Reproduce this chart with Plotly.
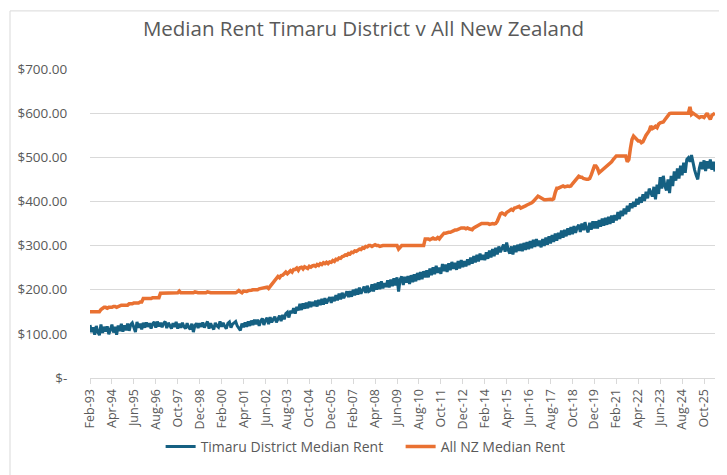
import pandas as pd
import plotly.graph_objects as go

# monthly, Feb-1993 .. May-2026
months = pd.date_range('1993-02-01', periods=400, freq='MS').strftime('%b-%y').tolist()

timaru_rent = [
    120, 104, 115, 98, 118, 104, 97, 121, 102, 116, 105,               # 1993
    117, 99, 113, 121, 103, 116, 98, 119, 106, 123, 105, 119,          # 1994
    108, 123, 107, 121, 125, 112, 104, 127, 114, 123, 110, 125,        # 1995
    114, 126, 116, 124, 112, 123, 127, 114, 128, 117, 125, 115,        # 1996
    124, 128, 113, 125, 118, 112, 124, 116, 127, 112, 123, 114,        # 1997
    125, 116, 112, 124, 115, 110, 123, 104, 119, 124, 113, 124,        # 1998
    116, 126, 114, 123, 128, 112, 124, 116, 110, 125, 118, 115,        # 1999
    128, 116, 125, 117, 112, 124, 127, 114, 122, 125, 128, 118,        # 2000
    112, 108, 123, 115, 126, 116, 128, 118, 130, 120, 132, 122,        # 2001
    132, 118, 129, 135, 120, 131, 136, 122, 138, 126, 133, 139,        # 2002
    126, 136, 141, 129, 143, 133, 146, 149, 137, 152, 147, 158,        # 2003
    146, 161, 153, 168, 154, 169, 157, 171, 158, 173, 161, 172,        # 2004
    163, 175, 162, 177, 165, 179, 166, 181, 169, 177, 183, 170,        # 2005
    184, 174, 188, 176, 191, 178, 193, 181, 189, 196, 183, 197,        # 2006
    184, 200, 187, 202, 189, 205, 191, 198, 207, 193, 209, 196,        # 2007
    198, 212, 196, 214, 200, 217, 201, 219, 203, 215, 206, 221,        # 2008
    205, 223, 208, 226, 210, 228, 196, 223, 230, 211, 229, 216,        # 2009
    231, 213, 233, 217, 235, 219, 238, 222, 240, 224, 242, 228,        # 2010
    244, 228, 248, 233, 251, 235, 254, 238, 250, 236, 258, 242,        # 2011
    257, 240, 260, 244, 263, 247, 261, 245, 265, 248, 267, 251,        # 2012
    265, 253, 269, 256, 273, 259, 276, 262, 279, 264, 282, 268,        # 2013
    279, 267, 285, 270, 289, 273, 292, 276, 295, 280, 298, 285,        # 2014
    293, 302, 286, 307, 290, 282, 298, 280, 300, 285, 302, 288,        # 2015
    304, 287, 306, 290, 308, 292, 310, 294, 313, 297, 315, 299,        # 2016
    311, 296, 315, 299, 318, 302, 321, 305, 324, 308, 327, 311,        # 2017
    329, 315, 334, 318, 336, 321, 339, 324, 342, 326, 344, 329,        # 2018
    341, 347, 331, 350, 335, 353, 338, 330, 352, 336, 355, 339,        # 2019
    355, 339, 358, 343, 361, 345, 363, 347, 365, 349, 368, 352,        # 2020
    369, 357, 376, 360, 379, 367, 384, 371, 390, 377, 396, 385,        # 2021
    399, 388, 406, 393, 410, 397, 416, 401, 422, 407, 429, 417,        # 2022
    411, 433, 405, 438, 417, 455, 429, 458, 435, 425, 450, 419,        # 2023
    458, 435, 468, 447, 475, 452, 481, 459, 488, 465, 495, 499,        # 2024
    490, 505, 483, 471, 459, 450, 475, 489, 473, 493, 469, 491,        # 2025
    475, 495, 472, 490, 468,                                           # 2026
]

nz_rent = [
    150, 150, 150, 150, 150, 150, 150, 155, 158, 160, 160,             # 1993
    158, 160, 160, 160, 162, 162, 160, 162, 163, 165, 165, 165,        # 1994
    165, 165, 168, 168, 168, 170, 170, 170, 170, 172, 172, 180,        # 1995
    180, 180, 180, 180, 180, 182, 182, 182, 182, 182, 192, 192,        # 1996
    192, 192, 193, 193, 193, 193, 193, 193, 193, 193, 197, 193,        # 1997
    193, 193, 193, 193, 192, 192, 193, 193, 195, 193, 193, 193,        # 1998
    193, 193, 193, 193, 195, 193, 193, 193, 193, 193, 193, 193,        # 1999
    193, 193, 193, 193, 193, 193, 193, 193, 193, 193, 193, 195,        # 2000
    198, 195, 193, 197, 196, 196, 198, 198, 199, 200, 200, 200,        # 2001
    200, 202, 203, 203, 205, 205, 206, 203, 208, 212, 218, 222,        # 2002
    226, 230, 227, 232, 233, 238, 240, 236, 241, 243, 240, 246,        # 2003
    246, 249, 244, 250, 251, 247, 252, 250, 248, 253, 251, 254,        # 2004
    255, 253, 257, 255, 259, 257, 261, 259, 262, 259, 263, 262,        # 2005
    266, 264, 269, 268, 272, 271, 275, 276, 279, 278, 282, 281,        # 2006
    285, 284, 288, 287, 290, 292, 291, 295, 294, 298, 297, 300,        # 2007
    300, 298, 300, 302, 300, 300, 298, 300, 300, 300, 300, 300,        # 2008
    300, 300, 300, 300, 300, 300, 292, 296, 300, 300, 300, 300,        # 2009
    300, 300, 300, 300, 300, 300, 300, 300, 300, 300, 300, 315,        # 2010
    315, 315, 313, 315, 317, 315, 315, 318, 315, 320, 325, 328,        # 2011
    328, 330, 330, 330, 332, 333, 335, 335, 337, 338, 340, 340,        # 2012
    340, 338, 340, 338, 336, 336, 340, 342, 345, 348, 350, 350,        # 2013
    350, 350, 349, 350, 348, 350, 350, 349, 350, 355, 365, 372,        # 2014
    374, 372, 370, 375, 378, 380, 382, 380, 385, 386, 388, 389,        # 2015
    385, 386, 388, 390, 392, 393, 395, 397, 400, 405, 410, 412,        # 2016
    410, 408, 404, 404, 404, 405, 404, 405, 404, 406, 420, 430,        # 2017
    430, 431, 432, 435, 433, 435, 435, 434, 435, 440, 445, 450,        # 2018
    455, 457, 455, 455, 452, 450, 450, 450, 452, 460, 470, 480,        # 2019
    480, 475, 465, 468, 470, 475, 478, 480, 482, 485, 490, 495,        # 2020
    500, 503, 503, 503, 503, 503, 503, 503, 490, 495, 520, 540,        # 2021
    548, 545, 540, 537, 537, 533, 535, 545, 550, 555, 560, 571,        # 2022
    565, 567, 570, 567, 575, 578, 580, 580, 585, 590, 595, 599,        # 2023
    600, 600, 600, 600, 600, 600, 600, 600, 600, 600, 600, 600,        # 2024
    614, 597, 600, 598, 595, 592, 590, 592, 592, 590, 595, 600,        # 2025
    592, 586, 595, 598, 600,                                           # 2026
]

y_ticks = [0, 100, 200, 300, 400, 500, 600, 700]
y_labels = ['$-', '$100.00', '$200.00', '$300.00', '$400.00', '$500.00', '$600.00', '$700.00']
x_labels = months[::14]

grey = '#595959'
font_name = 'Open Sans'

fig = go.Figure()
fig.add_trace(go.Scatter(x=months, y=timaru_rent, mode='lines', name='Timaru District Median Rent',
                         line=dict(color='#156082', width=3)))
fig.add_trace(go.Scatter(x=months, y=nz_rent, mode='lines', name='All NZ Median Rent',
                         line=dict(color='#E97132', width=3.5)))

fig.update_layout(
    width=727, height=475,
    margin=dict(l=82, r=20, t=61, b=105),
    paper_bgcolor='white', plot_bgcolor='white',
    font=dict(family=font_name, color=grey, size=13),
    title=dict(text='Median Rent Timaru District v All New Zealand', x=0.489, xanchor='center',
               y=0.957, yanchor='middle', font=dict(size=20.5, color=grey)),
    showlegend=True,
    legend=dict(orientation='h', x=0.113, xanchor='left', y=-0.223, yanchor='middle',
                entrywidth=195, entrywidthmode='pixels',
                font=dict(size=14, color=grey)),
    shapes=[dict(type='rect', xref='paper', yref='paper', x0=-0.128, x1=1.027, y0=-0.33, y1=1.188,
                 line=dict(color='#D9D9D9', width=1), layer='below')],
)
fig.update_xaxes(type='category', range=[0, len(months) - 1], tickmode='array', tickvals=x_labels,
                 ticktext=x_labels, tickangle=-90, tickfont=dict(size=12.5, color=grey),
                 showgrid=False, showline=True, linecolor='#D9D9D9', ticks='outside',
                 ticklen=5, tickcolor='#D9D9D9', zeroline=False, automargin=False)
# nbsp padding keeps the labels clear of the plot edge, like the original
fig.update_yaxes(range=[0, 700], tickmode='array', tickvals=y_ticks,
                 ticktext=[t + '\u00a0\u00a0' for t in y_labels],
                 tickfont=dict(size=13.5, color=grey), showgrid=True, gridcolor='#D9D9D9',
                 gridwidth=1, zeroline=False, ticks='outside', ticklen=12,
                 tickcolor='rgba(0,0,0,0)', automargin=False)

fig.write_html("out.html")
